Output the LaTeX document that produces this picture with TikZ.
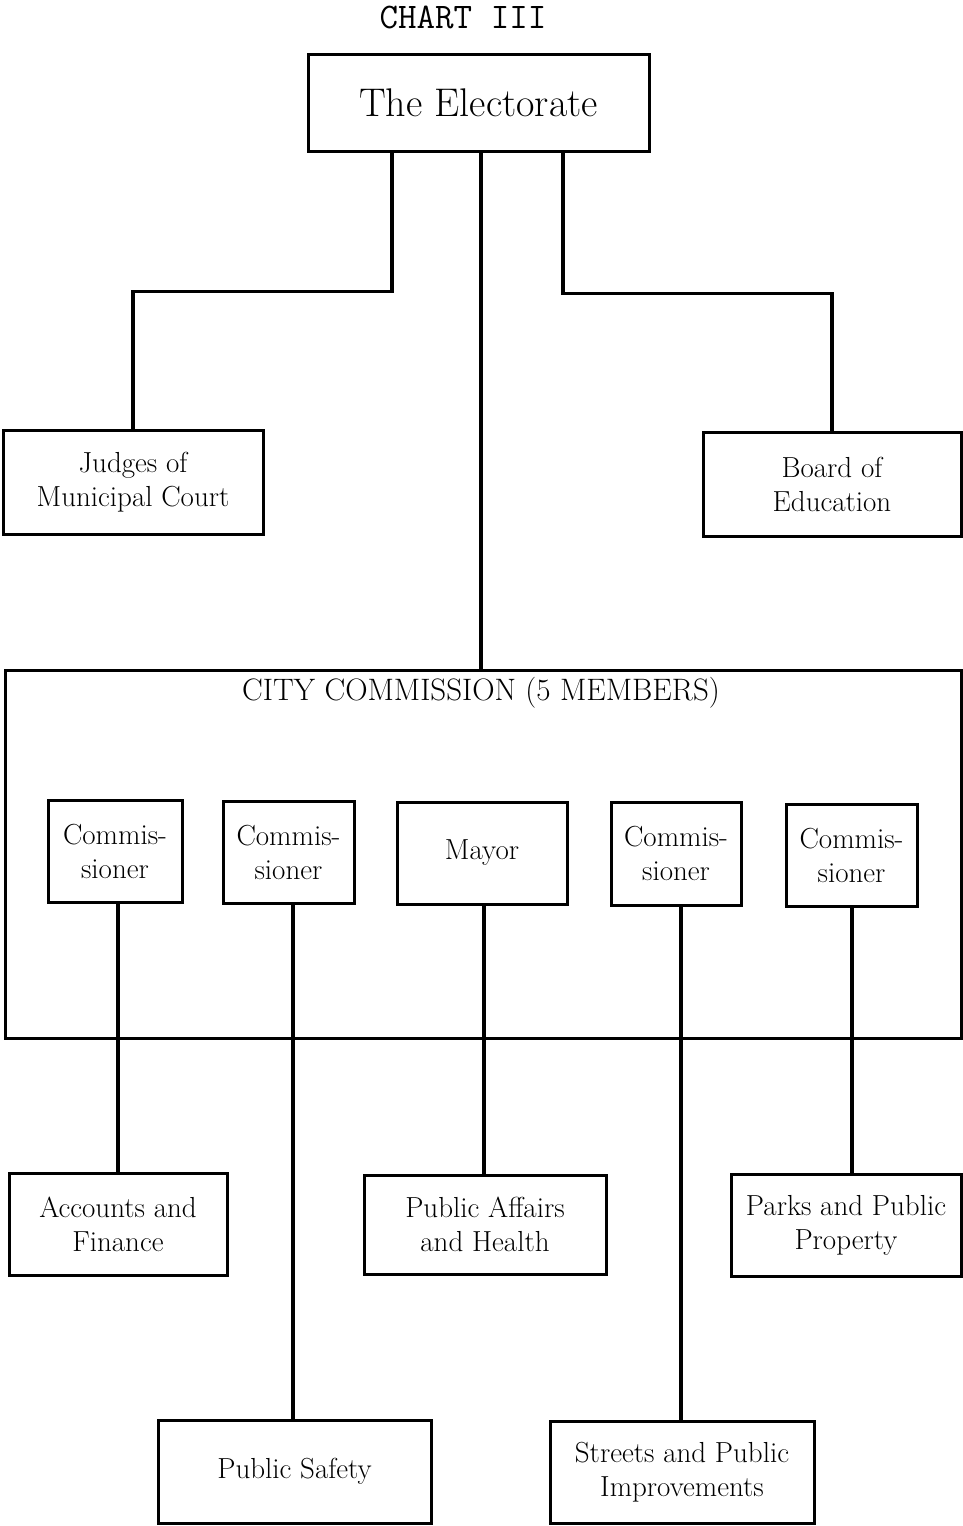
\documentclass[tikz,border=0pt]{standalone}
\usepackage{fontspec}
\usetikzlibrary{calc}

\begin{document}
\begin{tikzpicture}[x=1pt, y=-1pt,
    box/.style={draw, line width=3pt, inner sep=0pt, align=center,
      font=\fontsize{29}{34}\selectfont\addfontfeature{LetterSpace=4,FakeBold=0.8}},
    wire/.style={line width=3.4pt}]
  \useasboundingbox (0,0) rectangle (963,1526);

  \node[font=\ttfamily\fontsize{36}{36}\selectfont\addfontfeature{FakeBold=0.6}] (title) at (463,17) {CHART III};
  \node[box, minimum width=341pt, minimum height=97pt,
    font=\fontsize{40}{44}\selectfont\addfontfeature{LetterSpace=2,FakeBold=0.8}] (elect) at (478.5,102.5) {The Electorate};

  \node[box, minimum width=260pt, minimum height=104pt] (judges) at (133,482) {Judges of\\Municipal Court};
  \node[box, minimum width=258pt, minimum height=104pt] (board) at (832,484) {Board of\\Education};

  \node[box, minimum width=956pt, minimum height=368pt] (comm) at (483,854) {};
  \node[font=\fontsize{31}{34}\selectfont\addfontfeature{LetterSpace=2,FakeBold=0.8}] (commlabel) at (481,693) {CITY COMMISSION (5 MEMBERS)};

  \node[box, minimum width=134pt, minimum height=102pt] (c1) at (115,851) {Commis-\\sioner};
  \node[box, minimum width=131pt, minimum height=102pt] (c2) at (288.5,852) {Commis-\\sioner};
  \node[box, minimum width=170pt, minimum height=102pt] (mayor) at (482,853) {Mayor};
  \node[box, minimum width=130pt, minimum height=103pt] (c4) at (676,853.5) {Commis-\\sioner};
  \node[box, minimum width=131pt, minimum height=102pt] (c5) at (851.5,855) {Commis-\\sioner};

  \node[box, minimum width=218pt, minimum height=102pt] (acc) at (118,1224) {Accounts and\\Finance};
  \node[box, minimum width=242pt, minimum height=99pt] (health) at (485,1224.5) {Public Affairs\\and Health};
  \node[box, minimum width=230pt, minimum height=102pt] (parks) at (846,1225) {Parks and Public\\Property};
  \node[box, minimum width=273pt, minimum height=103pt] (safety) at (294.5,1471.5) {Public Safety};
  \node[box, minimum width=264pt, minimum height=102pt] (streets) at (682,1472) {Streets and Public\\Improvements};

  \draw[wire] ([xshift=-86.5pt]elect.south) -- ++(0,139) -| (judges.north);
  \draw[wire] ([xshift=84.5pt]elect.south) -- ++(0,141) -| (board.north);
  \draw[wire] ([xshift=2.5pt]elect.south) -- ([xshift=2.5pt]elect.south |- comm.north);

  \draw[wire] (acc.north) -- (acc.north |- c1.south);
  \draw[wire] ([xshift=-1.5pt]safety.north) -- ([xshift=-1.5pt]safety.north |- c2.south);
  \draw[wire] ([xshift=-1pt]health.north) -- ([xshift=-1pt]health.north |- mayor.south);
  \draw[wire] ([xshift=-1pt]streets.north) -- ([xshift=-1pt]streets.north |- c4.south);
  \draw[wire] ([xshift=6pt]parks.north) -- ([xshift=6pt]parks.north |- c5.south);
\end{tikzpicture}
\end{document}
